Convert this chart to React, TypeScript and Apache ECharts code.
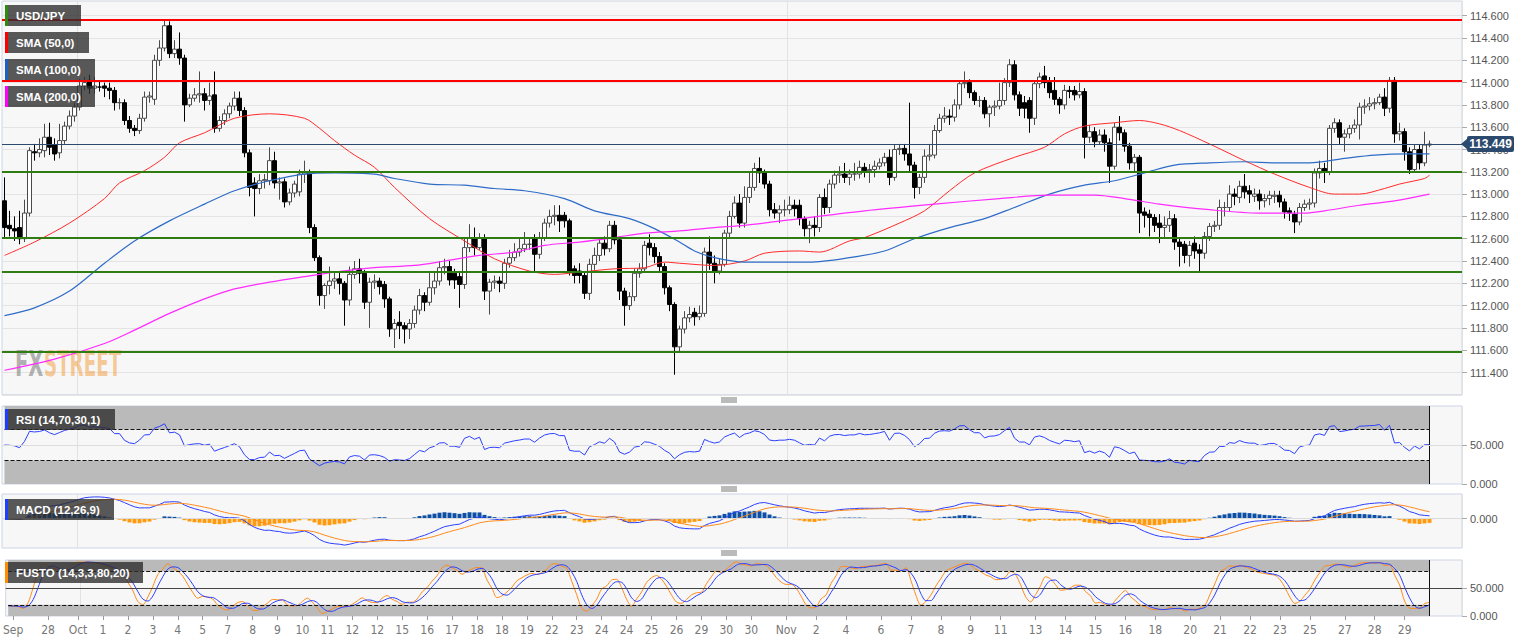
import React, { useEffect, useRef } from "react";
import * as echarts from "echarts";

// [open, close, low, high] — USD/JPY 4h candles
const ohlc: number[][] = [
  [112.94,112.70,112.60,113.15],[112.72,112.69,112.62,112.85],[112.69,112.67,112.58,112.80],[112.70,112.60,112.55,112.85],
  [112.60,112.83,112.57,112.95],[112.83,113.39,112.80,113.42],[113.38,113.37,113.30,113.45],[113.37,113.40,113.33,113.50],
  [113.39,113.51,113.33,113.63],[113.51,113.42,113.35,113.64],[113.44,113.36,113.30,113.50],[113.37,113.48,113.32,113.63],
  [113.48,113.61,113.45,113.65],[113.61,113.70,113.58,113.75],[113.70,113.78,113.65,113.82],[113.78,113.97,113.75,114.03],
  [113.97,114.00,113.93,114.05],[114.02,113.95,113.90,114.07],[113.95,113.97,113.90,114.05],[113.96,113.96,113.92,114.02],
  [113.97,113.95,113.87,114.00],[113.95,113.93,113.85,114.00],[113.93,113.82,113.75,113.96],[113.82,113.82,113.76,113.86],
  [113.82,113.66,113.62,113.85],[113.66,113.59,113.55,113.70],[113.59,113.57,113.52,113.62],[113.57,113.68,113.54,113.72],
  [113.68,113.87,113.65,113.92],[113.87,113.88,113.82,113.92],[113.85,114.20,113.80,114.25],[114.20,114.31,114.15,114.38],
  [114.31,114.51,114.28,114.56],[114.51,114.26,114.22,114.55],[114.26,114.30,114.22,114.38],[114.30,114.22,114.16,114.45],
  [114.22,113.80,113.65,114.25],[113.80,113.86,113.78,113.90],[113.86,113.89,113.83,113.95],[113.89,113.90,113.82,114.10],
  [113.90,113.84,113.75,113.95],[113.84,113.88,113.80,114.00],[113.89,113.59,113.55,114.10],[113.59,113.66,113.56,113.70],
  [113.66,113.72,113.62,113.76],[113.72,113.79,113.68,113.82],[113.79,113.86,113.75,113.92],[113.86,113.75,113.70,113.92],
  [113.75,113.37,113.33,113.78],[113.37,113.06,112.98,113.40],[113.10,113.05,112.80,113.15],[113.05,113.12,113.00,113.18],
  [113.12,113.13,113.05,113.18],[113.12,113.30,113.08,113.42],[113.30,113.10,113.05,113.38],[113.10,113.11,112.95,113.15],
  [113.11,112.93,112.88,113.14],[112.93,113.01,112.90,113.05],[113.01,113.09,112.97,113.12],[113.02,113.18,112.98,113.22],
  [113.18,113.20,113.10,113.30],[113.20,112.70,112.65,113.22],[112.70,112.43,112.40,112.73],[112.43,112.09,112.00,112.45],
  [112.09,112.18,111.97,112.20],[112.18,112.22,112.10,112.35],[112.22,112.24,112.15,112.30],[112.24,112.20,112.10,112.30],
  [112.20,112.05,111.82,112.22],[112.05,112.28,112.00,112.35],[112.28,112.33,112.24,112.40],[112.33,112.29,112.20,112.42],
  [112.29,112.03,111.97,112.32],[112.03,112.21,111.80,112.25],[112.21,112.22,112.15,112.28],[112.22,112.17,112.10,112.25],
  [112.19,112.06,111.98,112.22],[112.06,111.79,111.72,112.08],[111.79,111.84,111.62,111.88],[111.85,111.82,111.70,111.95],
  [111.82,111.79,111.66,111.85],[111.79,111.84,111.70,111.88],[111.84,111.96,111.80,112.00],[111.96,112.09,111.92,112.15],
  [112.09,112.03,111.95,112.12],[112.03,112.16,112.00,112.30],[112.16,112.22,112.10,112.30],[112.22,112.34,112.18,112.40],
  [112.34,112.35,112.28,112.42],[112.35,112.23,112.18,112.40],[112.29,112.23,112.15,112.33],[112.26,112.19,111.98,112.30],
  [112.19,112.52,112.15,112.60],[112.52,112.61,112.48,112.73],[112.61,112.52,112.45,112.70],[112.52,112.61,112.50,112.65],
  [112.61,112.13,112.05,112.64],[112.13,112.21,111.92,112.24],[112.21,112.22,112.15,112.27],[112.22,112.20,112.12,112.26],
  [112.20,112.38,112.15,112.42],[112.38,112.43,112.34,112.50],[112.43,112.48,112.40,112.56],[112.48,112.51,112.44,112.60],
  [112.51,112.55,112.48,112.66],[112.55,112.55,112.50,112.60],[112.60,112.46,112.30,112.64],[112.46,112.61,112.42,112.66],
  [112.61,112.74,112.58,112.78],[112.74,112.80,112.70,112.86],[112.80,112.81,112.72,112.90],[112.81,112.76,112.66,112.90],
  [112.81,112.76,112.70,112.84],[112.76,112.31,112.27,112.78],[112.33,112.27,112.20,112.36],[112.31,112.27,112.20,112.38],
  [112.27,112.11,112.06,112.30],[112.11,112.37,112.05,112.42],[112.37,112.45,112.32,112.52],[112.45,112.56,112.40,112.60],
  [112.56,112.51,112.45,112.62],[112.51,112.72,112.48,112.76],[112.72,112.59,112.55,112.76],[112.59,112.13,112.05,112.62],
  [112.13,112.00,111.82,112.16],[112.00,112.08,111.96,112.12],[112.08,112.29,112.04,112.33],[112.29,112.33,112.25,112.38],
  [112.33,112.54,112.30,112.58],[112.56,112.52,112.45,112.64],[112.52,112.44,112.38,112.56],[112.44,112.35,112.30,112.48],
  [112.35,112.16,112.10,112.38],[112.16,112.01,111.95,112.18],[112.01,111.63,111.38,112.03],[111.63,111.79,111.58,111.82],
  [111.79,111.89,111.75,111.95],[111.89,111.92,111.85,111.99],[111.94,111.90,111.82,111.98],[111.90,111.93,111.87,112.00],
  [111.93,112.48,111.90,112.52],[112.48,112.38,112.32,112.62],[112.38,112.31,112.20,112.45],[112.31,112.37,112.28,112.42],
  [112.37,112.65,112.35,112.68],[112.65,112.80,112.60,112.85],[112.80,112.92,112.78,112.98],[112.92,112.74,112.70,113.00],
  [112.74,112.97,112.70,113.07],[112.97,113.06,112.92,113.20],[113.06,113.23,113.03,113.28],[113.23,113.19,113.10,113.33],
  [113.19,113.09,113.05,113.22],[113.09,112.86,112.80,113.12],[112.86,112.83,112.78,112.92],[112.83,112.86,112.74,112.90],
  [112.86,112.86,112.80,112.95],[112.86,112.90,112.82,112.98],[112.90,112.87,112.80,112.95],[112.90,112.78,112.72,112.95],
  [112.78,112.69,112.62,112.80],[112.69,112.72,112.56,112.76],[112.72,112.70,112.62,112.80],[112.70,112.97,112.66,113.00],
  [112.97,112.88,112.82,113.05],[112.88,113.09,112.83,113.13],[113.09,113.17,113.05,113.21],[113.17,113.18,113.10,113.25],
  [113.18,113.15,113.10,113.28],[113.15,113.18,113.08,113.22],[113.18,113.18,113.12,113.28],[113.18,113.24,113.14,113.30],
  [113.24,113.21,113.15,113.28],[113.21,113.22,113.10,113.27],[113.22,113.25,113.15,113.30],[113.25,113.28,113.22,113.32],
  [113.28,113.33,113.25,113.37],[113.33,113.15,113.08,113.40],[113.15,113.40,113.12,113.44],[113.40,113.41,113.35,113.45],
  [113.41,113.36,113.30,113.45],[113.36,113.26,113.20,113.82],[113.26,113.06,112.96,113.29],[113.06,113.15,113.00,113.18],
  [113.15,113.34,113.10,113.40],[113.34,113.35,113.30,113.45],[113.35,113.57,113.32,113.62],[113.57,113.68,113.55,113.72],
  [113.68,113.70,113.64,113.78],[113.70,113.69,113.62,113.76],[113.69,113.80,113.65,113.85],[113.80,113.99,113.76,114.02],
  [113.99,114.00,113.95,114.10],[114.00,113.91,113.86,114.03],[113.91,113.84,113.80,113.93],[113.84,113.84,113.78,113.88],
  [113.84,113.72,113.68,113.87],[113.72,113.78,113.60,113.80],[113.78,113.79,113.70,113.84],[113.79,113.84,113.76,114.00],
  [113.84,114.00,113.80,114.04],[114.00,114.16,113.96,114.21],[114.16,113.89,113.84,114.20],[113.89,113.77,113.70,113.92],
  [113.82,113.77,113.68,113.88],[113.84,113.68,113.55,113.87],[113.68,113.99,113.62,114.02],[113.99,114.05,113.95,114.09],
  [114.06,114.00,113.95,114.15],[114.00,113.91,113.86,114.05],[113.93,113.85,113.80,114.05],[113.85,113.80,113.72,113.87],
  [113.80,113.93,113.76,113.98],[113.93,113.92,113.86,113.97],[113.93,113.89,113.84,113.97],[113.89,113.92,113.86,114.00],
  [113.92,113.51,113.32,113.95],[113.51,113.56,113.46,113.62],[113.56,113.47,113.42,113.60],[113.47,113.53,113.44,113.58],
  [113.53,113.46,113.38,113.58],[113.46,113.25,113.10,113.50],[113.25,113.60,113.22,113.64],[113.60,113.55,113.48,113.70],
  [113.55,113.43,113.38,113.58],[113.43,113.28,113.22,113.46],[113.28,113.33,113.20,113.36],[113.33,112.83,112.65,113.35],
  [112.84,112.81,112.70,112.88],[112.82,112.79,112.62,112.86],[112.79,112.72,112.66,112.82],[112.74,112.70,112.56,112.82],
  [112.70,112.72,112.60,112.80],[112.72,112.78,112.66,112.85],[112.78,112.57,112.50,112.82],[112.57,112.53,112.35,112.60],
  [112.55,112.45,112.38,112.58],[112.45,112.54,112.35,112.58],[112.56,112.49,112.42,112.62],[112.50,112.47,112.30,112.55],
  [112.47,112.62,112.42,112.66],[112.62,112.71,112.58,112.74],[112.71,112.72,112.66,112.76],[112.72,112.88,112.68,112.95],
  [112.88,112.88,112.80,112.93],[112.88,113.00,112.84,113.08],[113.00,112.98,112.90,113.05],[112.97,113.07,112.92,113.12],
  [113.07,113.02,112.96,113.18],[113.03,113.00,112.92,113.08],[112.98,113.00,112.93,113.05],[113.00,112.94,112.86,113.04],
  [112.94,112.96,112.88,113.00],[112.96,112.99,112.90,113.03],[112.98,112.99,112.92,113.03],[112.99,112.93,112.88,113.03],
  [112.93,112.84,112.78,112.96],[112.85,112.83,112.76,112.88],[112.82,112.75,112.65,112.85],[112.75,112.88,112.72,112.92],
  [112.88,112.91,112.85,112.95],[112.91,112.92,112.86,112.96],[112.92,113.19,112.88,113.23],[113.19,113.23,113.14,113.30],
  [113.23,113.20,113.10,113.28],[113.20,113.59,113.17,113.62],[113.59,113.64,113.55,113.68],[113.64,113.51,113.45,113.67],
  [113.51,113.54,113.38,113.58],[113.54,113.59,113.50,113.62],[113.59,113.62,113.55,113.67],[113.62,113.78,113.49,113.82],
  [113.78,113.79,113.72,113.85],[113.79,113.81,113.75,113.87],[113.81,113.82,113.76,113.86],[113.82,113.87,113.80,113.90],
  [113.87,113.77,113.70,113.95],[113.77,114.02,113.73,114.05],[114.02,113.54,113.46,114.05],[113.54,113.56,113.48,113.64],
  [113.56,113.38,113.30,113.59],[113.38,113.22,113.18,113.42],[113.22,113.40,113.19,113.44],[113.40,113.28,113.22,113.44],
  [113.28,113.44,113.25,113.56],[113.44,113.449,113.42,113.48],
];

// SMA lines: [candle index, value]
const sma50Pts: number[][] = [
  [0,112.45],[6,112.57],[13,112.74],[20,112.96],[23,113.10],[28,113.21],[32,113.33],[35,113.46],[40,113.55],[46,113.68],
  [53,113.72],[60,113.68],[63,113.59],[66,113.48],[70,113.35],[74,113.24],[78,113.06],[85,112.78],[92,112.58],[98,112.42],
  [105,112.31],[110,112.28],[115,112.30],[122,112.33],[128,112.34],[132,112.39],[135,112.38],[142,112.36],[148,112.40],
  [152,112.47],[159,112.49],[163,112.48],[169,112.58],[172,112.61],[179,112.74],[184,112.85],[189,113.03],[194,113.19],
  [202,113.33],[208,113.42],[212,113.54],[216,113.61],[222,113.64],[227,113.66],[231,113.63],[235,113.57],[241,113.45],
  [248,113.30],[254,113.18],[261,113.06],[266,113.00],[271,113.00],[276,113.05],[279,113.09],[284,113.14],[285,113.17],
];
const sma100Pts: number[][] = [
  [0,111.91],[6,111.98],[13,112.13],[20,112.38],[26,112.58],[33,112.76],[40,112.91],[46,113.03],[53,113.12],[60,113.18],
  [66,113.19],[74,113.18],[78,113.14],[85,113.09],[92,113.08],[98,113.05],[104,113.03],[112,112.96],[118,112.85],[125,112.78],
  [130,112.69],[135,112.57],[138,112.49],[142,112.43],[148,112.39],[161,112.39],[169,112.43],[176,112.49],[182,112.60],
  [189,112.70],[196,112.78],[202,112.88],[209,113.00],[216,113.08],[222,113.12],[228,113.19],[234,113.26],[241,113.28],
  [248,113.29],[254,113.28],[261,113.28],[268,113.32],[274,113.35],[281,113.36],[285,113.36],
];
const sma200Pts: number[][] = [
  [0,111.42],[10,111.52],[20,111.66],[26,111.78],[33,111.93],[40,112.06],[46,112.15],[53,112.21],[60,112.26],[66,112.30],
  [74,112.34],[82,112.36],[88,112.40],[95,112.45],[102,112.48],[108,112.54],[115,112.57],[122,112.61],[128,112.65],
  [135,112.67],[142,112.70],[148,112.72],[159,112.78],[172,112.85],[186,112.91],[199,112.96],[209,112.99],[218,112.99],
  [224,112.96],[231,112.91],[241,112.86],[251,112.83],[260,112.83],[264,112.85],[271,112.90],[278,112.94],[285,113.00],
];

const redLevels = [114.56, 114.02];
const greenLevels = [113.2, 112.61, 112.3, 111.59];
const lastPrice = 113.449;

const tickIndex = [1,8,14,19,24,29,34,39,44,49,54,59,64,69,74,79,84,89,94,99,104,109,114,119,124,129,134,139,144,149,
  156,162,168,175,181,187,193,199,206,212,218,224,230,237,243,249,255,261,268,274,280];
const tickText = ["Sep","28","Oct","1","2","3","4","5","7","8","9","10","11","12","12","15","16","17","18","18","19","22",
  "23","24","24","25","26","29","30","30","Nov","2","4","6","7","8","9","11","13","14","15","16","18","20","21","22","23",
  "25","27","28","29"];
const monthLineIndex = [15, 157];

const legendMain = ["USD/JPY", "SMA (50,0)", "SMA (100,0)", "SMA (200,0)"];
const legendInd = ["RSI (14,70,30,1)", "MACD (12,26,9)", "FUSTO (14,3,3,80,20)"];

// ---------- indicator calculations from the candles ----------
const closes = ohlc.map((d) => d[1]);
const lows = ohlc.map((d) => d[2]);
const highs = ohlc.map((d) => d[3]);

function rsi(c: number[], n: number): number[] {
  const out: number[] = [50];
  let seed = 0;
  for (let i = 1; i <= n && i < c.length; i++) seed += Math.abs(c[i] - c[i - 1]);
  seed = seed / n / 2;
  let ag = seed, al = seed;
  for (let i = 1; i < c.length; i++) {
    const d = c[i] - c[i - 1];
    ag = (ag * (n - 1) + Math.max(d, 0)) / n;
    al = (al * (n - 1) + Math.max(-d, 0)) / n;
    out.push(al === 0 ? 100 : 100 - 100 / (1 + ag / al));
  }
  return out;
}
function ema(v: number[], n: number): number[] {
  const k = 2 / (n + 1);
  const out: number[] = [];
  v.forEach((x, i) => out.push(i === 0 ? x : x * k + out[i - 1] * (1 - k)));
  return out;
}
function sma(v: number[], n: number): number[] {
  return v.map((_, i) => {
    const s = v.slice(Math.max(0, i - n + 1), i + 1);
    return s.reduce((a, b) => a + b, 0) / s.length;
  });
}
const rsiVals = rsi(closes, 14);
const ema12 = ema(closes, 12);
const ema26 = ema(closes, 26);
const macdVals = ema12.map((v, i) => v - ema26[i]);
const signalVals = ema(macdVals, 9);
const histVals = macdVals.map((v, i) => v - signalVals[i]);
const fastK = closes.map((c, i) => {
  const lo = Math.min(...lows.slice(Math.max(0, i - 13), i + 1));
  const hi = Math.max(...highs.slice(Math.max(0, i - 13), i + 1));
  return hi === lo ? 50 : ((c - lo) / (hi - lo)) * 100;
});
const stochK = sma(fastK, 3);
const stochD = sma(stochK, 3);

const FONT = "'Liberation Sans', Arial, Helvetica, sans-serif";
const NARROW = "'Liberation Sans Narrow', 'Arial Narrow', 'DejaVu Sans Condensed', sans-serif";

export default function App() {
  const ref = useRef<HTMLDivElement>(null);
  useEffect(() => {
    if (!ref.current) return;
    const chart = echarts.init(ref.current, undefined, { renderer: "svg" });
    const last = ohlc.length - 1;
    const N = ohlc.length + 6;
    const categories = Array.from({ length: N }, (_, i) => String(i));
    const tickMap = new Map<number, string>();
    tickIndex.forEach((k, j) => tickMap.set(k, tickText[j]));
    const monthSet = new Set(monthLineIndex);

    const mAll = [...macdVals, ...signalVals, ...histVals];
    const mMax = Math.max(...mAll), mMin = Math.min(...mAll);
    const mPad = (mMax - mMin) * 0.06;

    const gridBase = { left: 2, width: 1460, show: true, backgroundColor: "#f7f7f7", borderColor: "#cdd4e4", borderWidth: 1 };
    const grids = [
      { ...gridBase, top: 1, height: 393.8 },
      { ...gridBase, top: 406, height: 78 },
      { ...gridBase, top: 494, height: 54 },
      { ...gridBase, top: 560, height: 56 },
    ];
    const xAxes = [0, 1, 2, 3].map((g) => ({
      type: "category",
      gridIndex: g,
      data: categories,
      boundaryGap: true,
      axisLine: { show: false },
      axisTick:
        g === 3
          ? { show: true, interval: (i: number) => tickMap.has(i), alignWithLabel: true, length: 4, lineStyle: { color: "#999" } }
          : { show: false },
      axisLabel:
        g === 3
          ? {
              show: true,
              interval: (i: number) => tickMap.has(i),
              formatter: (_v: string, i: number) => tickMap.get(i) ?? "",
              color: "#777",
              fontSize: 12,
              fontFamily: NARROW,
              margin: 8,
            }
          : { show: false },
      splitLine: { show: true, interval: (i: number) => monthSet.has(i), lineStyle: { color: "#e2e2e2", width: 1 } },
    }));
    const yLabel = { color: "#555", fontSize: 11, fontFamily: FONT, margin: 8 };
    const yTick = { show: true, length: 5, lineStyle: { color: "#aaa" } };
    const yAxes = [
      {
        type: "value", gridIndex: 0, position: "right", min: 111.2, max: 111.2 + 393.8 / 111.5, interval: 0.2,
        axisLine: { show: false }, axisTick: yTick,
        axisLabel: { ...yLabel, formatter: (v: number) => v.toFixed(3), showMinLabel: false, showMaxLabel: false },
        splitLine: { show: true, lineStyle: { color: "#e4e4e4" } },
      },
      {
        type: "value", gridIndex: 1, position: "right", min: 0, max: 100,
        axisLine: { show: false }, axisTick: { ...yTick, customValues: [0, 50] },
        axisLabel: { ...yLabel, customValues: [0, 50], formatter: (v: number) => v.toFixed(3) },
        splitLine: { show: false },
      },
      {
        type: "value", gridIndex: 2, position: "right", min: mMin - mPad, max: mMax + mPad,
        axisLine: { show: false }, axisTick: { ...yTick, customValues: [0] },
        axisLabel: { ...yLabel, customValues: [0], formatter: (v: number) => v.toFixed(3) },
        splitLine: { show: false },
      },
      {
        type: "value", gridIndex: 3, position: "right", min: 0, max: 100,
        axisLine: { show: false }, axisTick: { ...yTick, customValues: [0, 50] },
        axisLabel: { ...yLabel, customValues: [0, 50], formatter: (v: number) => v.toFixed(3) },
        splitLine: { show: false },
      },
    ];

    const bands = (lo: number, hi: number) => [
      [{ xAxis: 0, yAxis: hi }, { xAxis: last, yAxis: 100 }],
      [{ xAxis: 0, yAxis: 0 }, { xAxis: last, yAxis: lo }],
    ];
    const dashed = (lo: number, hi: number) => [
      [{ xAxis: 0, yAxis: hi }, { xAxis: last, yAxis: hi }],
      [{ xAxis: 0, yAxis: lo }, { xAxis: last, yAxis: lo }],
    ];
    const vEnd = [[{ xAxis: last, yAxis: 0, lineStyle: { type: "solid", color: "#111" } }, { xAxis: last, yAxis: 100 }]];

    const series: any[] = [
      {
        type: "candlestick", name: "USD/JPY", xAxisIndex: 0, yAxisIndex: 0, data: ohlc, barWidth: 4, z: 3,
        itemStyle: { color: "#ffffff", color0: "#000000", borderColor: "#4a4a4a", borderColor0: "#000000", borderWidth: 1 },
        markLine: {
          symbol: ["none", "none"], silent: true, label: { show: false }, animation: false,
          data: [
            { yAxis: lastPrice, lineStyle: { color: "#2c4a6e", width: 1, type: "solid" } },
            ...redLevels.map((v) => ({ yAxis: v, lineStyle: { color: "#ff0000", width: 2, type: "solid" } })),
            ...greenLevels.map((v) => ({ yAxis: v, lineStyle: { color: "#2e7d10", width: 2, type: "solid" } })),
          ],
        },
      },
      { type: "line", xAxisIndex: 0, yAxisIndex: 0, data: sma50Pts, showSymbol: false, symbol: "none", smooth: 0.3, lineStyle: { color: "#ff2a2a", width: 1 }, z: 4 },
      { type: "line", xAxisIndex: 0, yAxisIndex: 0, data: sma100Pts, showSymbol: false, symbol: "none", smooth: 0.3, lineStyle: { color: "#2e6cc8", width: 1.2 }, z: 4 },
      { type: "line", xAxisIndex: 0, yAxisIndex: 0, data: sma200Pts, showSymbol: false, symbol: "none", smooth: 0.3, lineStyle: { color: "#ff2bff", width: 1.2 }, z: 4 },
      {
        type: "line", xAxisIndex: 1, yAxisIndex: 1, data: rsiVals, showSymbol: false, symbol: "none",
        lineStyle: { color: "#2b3fff", width: 1 }, z: 4,
        markArea: { silent: true, itemStyle: { color: "#bababa" }, data: bands(30, 70) },
        markLine: {
          symbol: ["none", "none"], silent: true, label: { show: false },
          lineStyle: { color: "#111", type: "dashed", width: 1 },
          data: [
            ...dashed(30, 70),
            ...vEnd,
            { yAxis: 50, lineStyle: { color: "#dcdcdc", type: "solid", width: 1 } },
          ],
        },
      },
      {
        type: "bar", xAxisIndex: 2, yAxisIndex: 2, barWidth: 4, z: 2,
        data: histVals.map((v) => ({ value: v, itemStyle: { color: v >= 0 ? "#0c4fa4" : "#ff9a0d" } })),
        markLine: {
          symbol: ["none", "none"], silent: true, label: { show: false },
          data: [{ yAxis: 0, lineStyle: { color: "#dcdcdc", type: "solid", width: 1 } }],
        },
      },
      { type: "line", xAxisIndex: 2, yAxisIndex: 2, data: macdVals, showSymbol: false, symbol: "none", lineStyle: { color: "#2b3fff", width: 1 }, z: 4 },
      { type: "line", xAxisIndex: 2, yAxisIndex: 2, data: signalVals, showSymbol: false, symbol: "none", lineStyle: { color: "#ff8a1a", width: 1 }, z: 4 },
      {
        type: "line", xAxisIndex: 3, yAxisIndex: 3, data: stochK, showSymbol: false, symbol: "none", smooth: 0.3,
        lineStyle: { color: "#ff8a1a", width: 1 }, z: 4,
        markArea: { silent: true, itemStyle: { color: "#bababa" }, data: bands(20, 80) },
        markLine: {
          symbol: ["none", "none"], silent: true, label: { show: false },
          lineStyle: { color: "#111", type: "dashed", width: 1 },
          data: [
            ...dashed(20, 80),
            ...vEnd,
            { yAxis: 50, lineStyle: { color: "#444", type: "solid", width: 1 } },
          ],
        },
      },
      { type: "line", xAxisIndex: 3, yAxisIndex: 3, data: stochD, showSymbol: false, symbol: "none", smooth: 0.3, lineStyle: { color: "#2b3fff", width: 1 }, z: 4 },
    ];

    chart.setOption({
      animation: false,
      backgroundColor: "#ffffff",
      grid: grids,
      xAxis: xAxes,
      yAxis: yAxes,
      series,
    });

    // ---------- overlays ----------
    const legendColorsMain = ["#2e8b10", "#ff0000", "#1f5fbf", "#ff00ff"];
    const legendColorsInd = ["#1f3fff", "#1f3fff", "#ff8c00"];
    const box = (label: string, color: string, top: number, width: number) => ({
      type: "group",
      children: [
        { type: "rect", shape: { x: 5, y: top, width, height: 21 }, style: { fill: "rgba(45,45,45,0.79)" }, z: 100 },
        { type: "rect", shape: { x: 5, y: top, width: 3, height: 21 }, style: { fill: color }, z: 101 },
        {
          type: "text", x: 16, y: top + 10.5, z: 102,
          style: { text: label, fill: "#ffffff", font: `bold 11.5px ${FONT}`, textVerticalAlign: "middle", verticalAlign: "middle", textAlign: "left", align: "left" },
        },
      ],
    });
    const graphics: any[] = [];
    const mainTops = [5, 32, 59, 86];
    const mainWidths = [76, 84, 90, 90];
    legendMain.forEach((t, i) => graphics.push(box(t, legendColorsMain[i], mainTops[i], mainWidths[i])));
    const indTops = [409, 499, 562];
    const indWidths = [110, 109, 138];
    legendInd.forEach((t, i) => graphics.push(box(t, legendColorsInd[i], indTops[i], indWidths[i])));

    // watermark
    graphics.push({
      type: "text", x: 15, y: 346, scaleX: 0.62, z: 1,
      style: { text: "FX", fill: "rgba(130,130,130,0.6)", font: `bold 35px 'DejaVu Sans Condensed', ${FONT}`, textVerticalAlign: "top", verticalAlign: "top" },
    });
    graphics.push({
      type: "text", x: 44, y: 346, scaleX: 0.58, z: 1,
      style: { text: "STREET", fill: "rgba(245,160,70,0.55)", font: `bold 35px 'DejaVu Sans Condensed', ${FONT}`, textVerticalAlign: "top", verticalAlign: "top" },
    });

    // panel handles
    [398, 487, 551].forEach((y) => {
      [0, 2, 4].forEach((d) =>
        graphics.push({ type: "line", shape: { x1: 721, y1: y + d, x2: 737, y2: y + d }, style: { stroke: "#777", lineWidth: 1 }, z: 50 })
      );
    });

    // last price tag
    const py = chart.convertToPixel({ yAxisIndex: 0 } as any, lastPrice) as unknown as number;
    graphics.push({
      type: "group", z: 200,
      children: [
        { type: "polygon", shape: { points: [[1461, py], [1468, py - 6], [1468, py + 6]] }, style: { fill: "#2c4a6e" }, z: 200 },
        { type: "rect", shape: { x: 1467, y: py - 8, width: 47, height: 16, r: 2 }, style: { fill: "#2c4a6e" }, z: 200 },
        {
          type: "text", x: 1490.5, y: py, z: 201,
          style: { text: lastPrice.toFixed(3), fill: "#ffffff", font: `bold 12px ${FONT}`, textAlign: "center", align: "center", textVerticalAlign: "middle", verticalAlign: "middle" },
        },
      ],
    });

    chart.setOption({ graphic: graphics });

    return () => chart.dispose();
  }, []);
  return <div ref={ref} style={{ position: "absolute", left: 0, top: 0, width: 1531, height: 643 }} />;
}
